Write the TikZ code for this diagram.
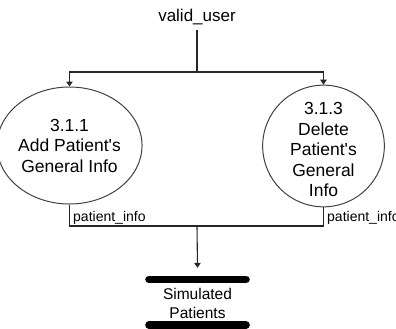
\documentclass[tikz,border=0pt]{standalone}
\usepackage{fontspec}
\setmainfont{Liberation Sans}[Ligatures=TeXOff]
\usetikzlibrary{arrows.meta,shapes.geometric}
\tikzset{
  flow/.style={line width=1.1pt, draw=black!85},
  tip/.style={-{Triangle[length=5pt,width=6.5pt]}},
  proc/.style={draw=black!75, line width=1pt, inner sep=0pt, align=center,
    font=\fontsize{17.5}{20.5}\selectfont},
  lbl/.style={inner sep=0pt, font=\fontsize{14}{16}\selectfont},
  bar/.style={line width=7.6pt, line cap=round, draw=black}
}
\begin{document}
\begin{tikzpicture}[x=1pt,y=-1pt]
\useasboundingbox (0,0) rectangle (396,329);
% source label
\node[inner sep=0pt, anchor=base, font=\fontsize{17}{20}\selectfont] (valid) at (197,22) {valid\_user};
\coordinate (j1) at (197,72);
\coordinate (j2) at (197,226);
% processes
\node[proc, ellipse, minimum width=122pt, minimum height=117pt] (L) at (69.5,145.5)
  {3.1.1\\Add Patient's\\General Info};
\node[proc, circle, minimum size=119pt] (R) at (323.5,146)
  {\rule{0pt}{20pt}3.1.3\\Delete\\Patient's\\General\\Info};
% data store
\node[inner sep=0pt, minimum height=70.2pt, minimum width=105pt, align=center,
  font=\fontsize{15.5}{19}\selectfont] (S) at (197.5,303.1) {Simulated\\Patients};
\draw[bar] (149,279.5) -- (246,279.5);
\draw[bar] (149,325) -- (246,325);
% flows
\draw[flow] ([yshift=-4.4pt]valid.south) -- (j1);
\draw[flow,tip] (j1) -| (L.north);
\draw[flow,tip] (j1) -| (R.north);
\draw[flow] (L.south) |- (j2) -| (R.south);
\draw[flow,tip] (j2) -- (S.north);
% flow labels
\node[lbl, anchor=base west] (pl) at (73,221.5) {patient\_info};
\node[lbl, anchor=base west] (pr) at (327,221.5) {patient\_info};
\end{tikzpicture}
\end{document}
